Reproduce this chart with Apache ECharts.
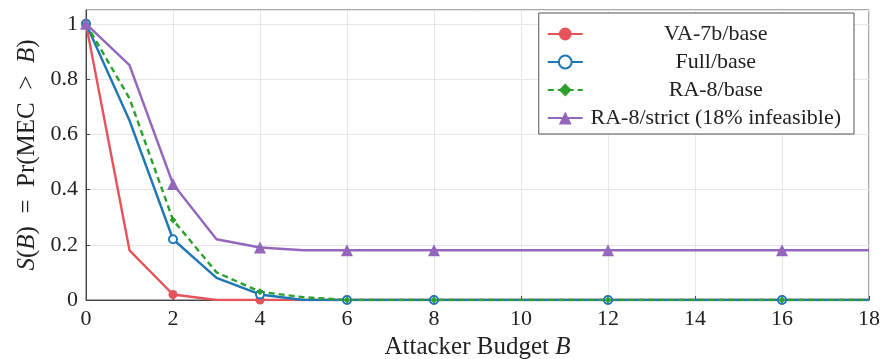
<!DOCTYPE html>
<html lang="en">
<head>
    <meta charset="UTF-8">
    <title>Survival curve</title>
    <script src="https://cdn.jsdelivr.net/npm/echarts@6/dist/echarts.min.js"></script>
    <style>
        html, body { margin: 0; padding: 0; background: #fff; }
        #main { width: 891px; height: 359px; }
    </style>
</head>
<body>
<div id="main"></div>
<script type="text/javascript">
    // budgets (x) and which of them carry a marker
    var budgets = [0, 1, 2, 3, 4, 5, 6, 8, 12, 16, 18];
    var markedBudgets = [0, 2, 4, 6, 8, 12, 16];

    var seriesNames = ['VA-7b/base', 'Full/base', 'RA-8/base', 'RA-8/strict (18% infeasible)'];
    var va7bBase   = [1, 0.18, 0.02, 0, 0, 0, 0, 0, 0, 0, 0];
    var fullBase   = [1, 0.65, 0.22, 0.08, 0.02, 0, 0, 0, 0, 0, 0];
    var ra8Base    = [1, 0.73, 0.29, 0.10, 0.03, 0.01, 0, 0, 0, 0, 0];
    var ra8Strict  = [1, 0.85, 0.42, 0.22, 0.19, 0.18, 0.18, 0.18, 0.18, 0.18, 0.18];

    var xTicks = [0, 2, 4, 6, 8, 10, 12, 14, 16, 18];
    var yTicks = [0, 0.2, 0.4, 0.6, 0.8, 1];

    var serif = 'Liberation Serif';

    function toData(vals) {
        return budgets.map(function (b, i) {
            if (markedBudgets.indexOf(b) >= 0) return [b, vals[i]];
            return { value: [b, vals[i]], symbolSize: 0 };
        });
    }

    var chart = echarts.init(document.getElementById('main'));

    var option = {
        animation: false,
        backgroundColor: '#fff',
        grid: {
            left: 86, right: 22, top: 10, bottom: 59,
            outerBoundsMode: 'none',
            show: true, borderColor: '#555', borderWidth: 1
        },
        legend: {
            orient: 'vertical',
            right: 37, top: 13,
            padding: [10, 13, 5, 8],
            itemWidth: 35, itemHeight: 16, itemGap: 6,
            borderColor: '#555', borderWidth: 1,
            backgroundColor: '#fff',
            data: seriesNames,
            formatter: function (name) { return '{c|' + name + '}'; },
            textStyle: {
                fontFamily: serif, fontSize: 22, color: '#222',
                rich: { c: { width: 256, align: 'center', fontFamily: serif, fontSize: 22, color: '#222' } }
            }
        },
        xAxis: {
            type: 'value',
            min: 0, max: 18, interval: 2,
            name: '{t|Attacker Budget }{i|B}',
            nameLocation: 'middle', nameGap: 35,
            nameTextStyle: {
                rich: {
                    t: { fontFamily: serif, fontSize: 25, color: '#222' },
                    i: { fontFamily: serif, fontSize: 25, fontStyle: 'italic', color: '#222' }
                }
            },
            axisLine: { onZero: false, lineStyle: { color: '#444', width: 1 } },
            axisTick: { inside: true, length: 4, lineStyle: { color: '#444' } },
            axisLabel: {
                fontFamily: serif, fontSize: 22, color: '#222', margin: 8,
                formatter: function (v) { return xTicks.indexOf(v) >= 0 ? String(v) : ''; }
            },
            splitLine: { show: true, lineStyle: { color: '#e6e6e6', width: 1 } }
        },
        yAxis: {
            type: 'value',
            min: 0, max: 1.05, interval: 0.2,
            name: '{i|S}{t|(}{i|B}{t|)  =  Pr(MEC  >  }{i|B}{t|)}',
            nameLocation: 'middle', nameGap: 45,
            nameTextStyle: {
                rich: {
                    t: { fontFamily: serif, fontSize: 25, color: '#222' },
                    i: { fontFamily: serif, fontSize: 25, fontStyle: 'italic', color: '#222' }
                }
            },
            axisLine: { show: true, lineStyle: { color: '#444', width: 1 } },
            axisTick: { show: true, inside: true, length: 4, lineStyle: { color: '#444' } },
            axisLabel: {
                fontFamily: serif, fontSize: 22, color: '#222', margin: 8,
                showMaxLabel: false,
                formatter: function (v) {
                    for (var k = 0; k < yTicks.length; k++) {
                        if (Math.abs(yTicks[k] - v) < 1e-9) return String(yTicks[k]);
                    }
                    return '';
                }
            },
            splitLine: { show: true, lineStyle: { color: '#e6e6e6', width: 1 } }
        },
        series: [
            {
                name: seriesNames[0], type: 'line', data: toData(va7bBase),
                color: '#e5535b', symbol: 'circle', symbolSize: 9,
                lineStyle: { width: 2.4 }
            },
            {
                name: seriesNames[1], type: 'line', data: toData(fullBase),
                color: '#1f77b4', symbol: 'emptyCircle', symbolSize: 8,
                itemStyle: { borderWidth: 2.2 },
                lineStyle: { width: 2.4 }
            },
            {
                name: seriesNames[2], type: 'line', data: toData(ra8Base),
                color: '#2ca02c', symbol: 'diamond', symbolSize: 7,
                lineStyle: { width: 2.4, type: [6, 4] }
            },
            {
                name: seriesNames[3], type: 'line', data: toData(ra8Strict),
                color: '#9467bd', symbol: 'triangle', symbolSize: 12,
                lineStyle: { width: 2.4 }
            }
        ]
    };

    chart.setOption(option);
</script>
</body>
</html>
